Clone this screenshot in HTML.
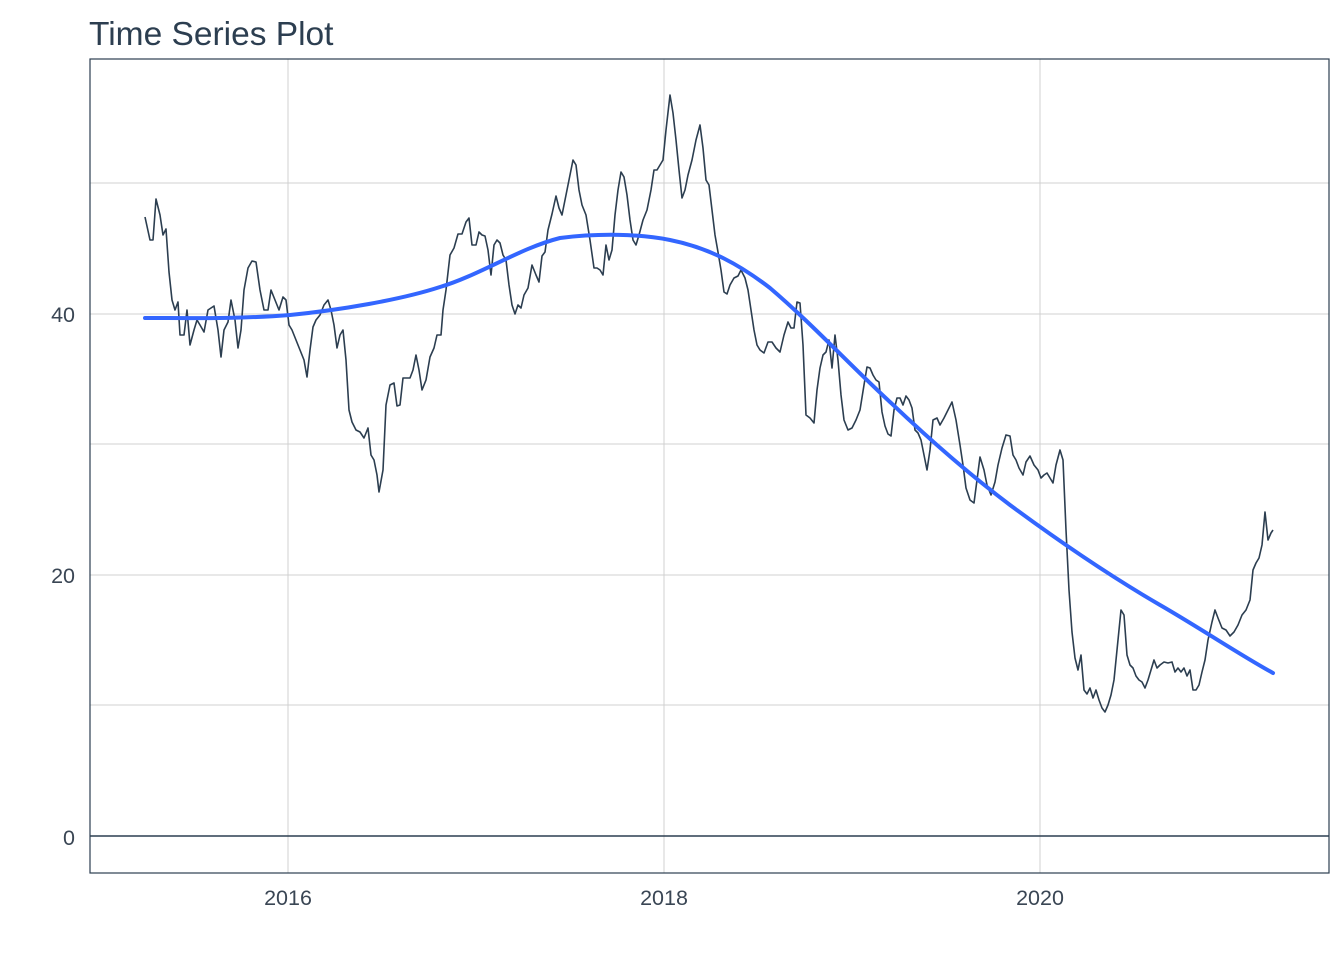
<!DOCTYPE html>
<html><head><meta charset="utf-8"><style>
html,body{margin:0;padding:0;background:#fff;}
svg{display:block;font-family:"Liberation Sans",sans-serif;}
</style></head><body>
<svg width="1344" height="960" viewBox="0 0 1344 960" xmlns="http://www.w3.org/2000/svg">
<rect width="1344" height="960" fill="#fff"/>
<text x="89" y="45" font-size="33.5" fill="#2c3e50">Time Series Plot</text>
<g stroke="#d0d0d0" stroke-width="1">
<line x1="90" y1="183" x2="1329" y2="183"/>
<line x1="90" y1="444" x2="1329" y2="444"/>
<line x1="90" y1="705" x2="1329" y2="705"/>
<line x1="90" y1="314" x2="1329" y2="314"/>
<line x1="90" y1="575" x2="1329" y2="575"/>
<line x1="288" y1="59" x2="288" y2="873"/>
<line x1="664" y1="59" x2="664" y2="873"/>
<line x1="1040" y1="59" x2="1040" y2="873"/>
</g>
<line x1="90" y1="836" x2="1329" y2="836" stroke="#2c3e50" stroke-width="1.6"/>
<polyline fill="none" stroke="#2c3e50" stroke-width="1.6" stroke-linejoin="round" points="145,217 150,240 153,240 156,199 160,215 163,235 166,229 169,272 172,300 175,310 178,302 180,335 184,335 187,310 190,345 194,330 197,320 200,325 204,332 208,310 214,306 218,330 221,357 224,330 228,322 231,300 235,320 238,348 241,330 244,290 248,268 252,261 256,262 260,290 264,310 268,310 271,290 275,300 279,310 283,297 286,300 289,325 292,330 296,340 300,350 304,360 307,377 310,350 313,327 316,320 320,315 324,305 328,300 331,310 334,325 337,348 340,335 343,330 346,360 349,410 352,422 356,430 360,432 364,438 368,428 371,455 374,460 377,475 379,492 383,470 386,405 390,385 394,383 397,406 400,405 403,378 406,378 410,378 413,370 416,355 419,370 422,390 426,380 430,357 434,348 437,335 441,335 443,310 446,290 450,255 454,248 458,234 462,234 466,222 469,218 472,245 476,245 479,232 482,235 485,236 488,250 491,275 494,245 497,240 500,243 503,255 506,260 509,285 512,305 515,314 518,305 521,308 524,295 528,288 532,265 536,275 539,282 542,256 545,252 548,230 552,214 556,196 559,208 562,215 566,195 570,175 573,160 576,165 579,190 582,205 586,215 590,240 594,268 597,268 600,270 603,275 606,245 609,260 612,250 615,215 618,190 621,172 624,177 627,195 630,220 633,240 636,245 639,235 643,220 647,210 651,190 654,170 657,170 660,165 663,160 666,130 670,95 673,113 676,140 679,170 682,198 685,190 688,175 692,160 696,140 700,125 703,148 706,180 709,185 712,210 715,235 718,252 721,270 724,292 727,294 730,285 734,278 738,276 741,270 745,278 748,290 751,310 754,330 757,345 760,350 764,353 768,342 772,342 776,348 780,352 784,335 788,322 791,328 794,328 797,302 800,303 803,345 806,415 810,418 814,423 817,390 820,368 823,355 826,352 829,340 832,368 835,335 838,360 841,395 844,420 848,430 852,428 856,420 860,410 864,385 867,367 870,368 873,375 876,380 879,382 882,412 885,426 888,434 891,436 894,410 897,398 900,398 903,405 906,396 909,400 912,408 915,430 918,433 921,440 924,455 927,470 930,450 933,420 937,418 940,425 944,418 948,410 952,402 956,420 960,445 963,465 966,488 970,500 974,503 977,480 980,457 984,470 987,485 991,495 995,482 998,465 1002,448 1006,435 1010,436 1013,455 1016,460 1019,468 1023,475 1026,462 1030,456 1034,465 1038,470 1041,478 1044,475 1047,473 1050,478 1053,483 1056,465 1060,450 1063,460 1066,530 1069,590 1072,632 1075,658 1078,670 1081,655 1084,690 1087,694 1090,688 1093,698 1096,690 1099,700 1102,708 1105,712 1108,705 1111,695 1114,680 1118,640 1121,610 1124,615 1127,655 1130,665 1133,668 1136,676 1139,680 1142,682 1145,688 1148,680 1151,670 1154,660 1157,668 1160,665 1164,662 1168,663 1172,662 1175,672 1178,668 1181,672 1184,668 1187,676 1190,670 1193,690 1196,690 1199,685 1202,672 1205,660 1208,640 1212,622 1215,610 1218,618 1222,628 1226,630 1230,636 1234,632 1238,625 1242,615 1246,610 1250,600 1253,570 1256,563 1259,558 1262,545 1265,512 1268,540 1271,533 1273,530"/>
<path fill="none" stroke="#3366ff" stroke-width="4" stroke-linecap="round" d="M145,318 C190,318 240,319 290,315 C340,310 400,300 440,287 C480,275 520,248 560,238 C600,233 640,234 670,240 C710,248 740,265 770,288 C810,322 850,365 890,402 C930,440 970,475 1010,505 C1060,542 1110,576 1160,605 C1200,628 1240,655 1273,673"/>
<rect x="90" y="59" width="1239" height="814" fill="none" stroke="#2c3e50" stroke-width="1.2"/>
<g font-size="21.5" fill="#3a4654" text-anchor="end">
<text x="75" y="322">40</text>
<text x="75" y="583">20</text>
<text x="75" y="845">0</text>
</g>
<g font-size="21.5" fill="#3a4654" text-anchor="middle">
<text x="288" y="905">2016</text>
<text x="664" y="905">2018</text>
<text x="1040" y="905">2020</text>
</g>
</svg>
</body></html>
